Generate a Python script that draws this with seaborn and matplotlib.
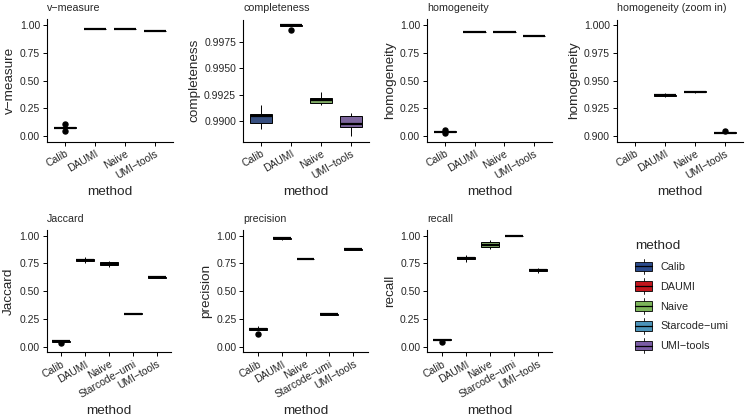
import numpy as np
import pandas as pd
import matplotlib
matplotlib.use("Agg")
import matplotlib.pyplot as plt
import seaborn as sns
from matplotlib.legend_handler import HandlerBase
from matplotlib.patches import Patch, Rectangle
from matplotlib.lines import Line2D
from matplotlib.ticker import FormatStrFormatter

# Methods and their fill colours
methods = ["Calib", "DAUMI", "Naive", "Starcode−umi", "UMI−tools"]
colors = ["#2B4B8C", "#C3161D", "#7CB55A", "#4B93B9", "#7A5CA5"]

# Replicate values per metric
v_measure = {
    "Calib": [0.045, 0.070, 0.072, 0.074, 0.075, 0.076, 0.077, 0.078, 0.079, 0.110],
    "DAUMI": [0.965, 0.966, 0.966, 0.967, 0.967, 0.967, 0.967, 0.968, 0.968, 0.969],
    "Naive": [0.964, 0.964, 0.965, 0.965, 0.965, 0.966, 0.966, 0.966, 0.967, 0.967],
    "UMI−tools": [0.943, 0.943, 0.944, 0.944, 0.944, 0.944, 0.945, 0.945, 0.945, 0.946],
}
completeness = {
    "Calib": [0.98927, 0.98960, 0.98975, 0.99010, 0.99035, 0.99050, 0.99065, 0.99071, 0.99100, 0.99150],
    "DAUMI": [0.99868, 0.99905, 0.99906, 0.99907, 0.99908, 0.99909, 0.99909, 0.99910, 0.99911, 0.99912],
    "Naive": [0.99150, 0.99160, 0.99165, 0.99185, 0.99195, 0.99200, 0.99215, 0.99224, 0.99240, 0.99278],
    "UMI−tools": [0.98856, 0.98900, 0.98940, 0.98950, 0.98960, 0.98975, 0.99035, 0.99045, 0.99055, 0.99074],
}
homogeneity = {
    "Calib": [0.028, 0.032, 0.036, 0.038, 0.039, 0.040, 0.041, 0.042, 0.043, 0.055],
    "DAUMI": [0.9355, 0.9358, 0.9360, 0.9363, 0.9365, 0.9367, 0.9370, 0.9375, 0.9380, 0.9388],
    "Naive": [0.9385, 0.9390, 0.9394, 0.9398, 0.9400, 0.9402, 0.9403, 0.9405, 0.9406, 0.9408],
    "UMI−tools": [0.8985, 0.8990, 0.8995, 0.9024, 0.9027, 0.9029, 0.9030, 0.9031, 0.9033, 0.9042],
}
jaccard = {
    "Calib": [0.030, 0.045, 0.046, 0.047, 0.048, 0.048, 0.049, 0.049, 0.050, 0.051],
    "DAUMI": [0.750, 0.765, 0.772, 0.776, 0.779, 0.781, 0.785, 0.792, 0.800, 0.810],
    "Naive": [0.720, 0.728, 0.732, 0.738, 0.742, 0.748, 0.755, 0.765, 0.770, 0.775],
    "Starcode−umi": [0.295, 0.296, 0.297, 0.298, 0.298, 0.299, 0.299, 0.300, 0.301, 0.302],
    "UMI−tools": [0.620, 0.622, 0.623, 0.624, 0.625, 0.626, 0.627, 0.628, 0.629, 0.631],
}
precision = {
    "Calib": [0.118, 0.150, 0.152, 0.155, 0.158, 0.162, 0.166, 0.170, 0.175, 0.185],
    "DAUMI": [0.966, 0.970, 0.973, 0.975, 0.976, 0.977, 0.978, 0.979, 0.980, 0.981],
    "Naive": [0.790, 0.791, 0.792, 0.792, 0.793, 0.793, 0.794, 0.794, 0.795, 0.796],
    "Starcode−umi": [0.287, 0.288, 0.289, 0.289, 0.290, 0.290, 0.291, 0.291, 0.292, 0.293],
    "UMI−tools": [0.873, 0.874, 0.875, 0.875, 0.876, 0.876, 0.877, 0.877, 0.878, 0.879],
}
recall = {
    "Calib": [0.040, 0.060, 0.062, 0.063, 0.064, 0.065, 0.066, 0.067, 0.068, 0.069],
    "DAUMI": [0.760, 0.775, 0.785, 0.790, 0.795, 0.798, 0.802, 0.808, 0.815, 0.830],
    "Naive": [0.880, 0.890, 0.898, 0.905, 0.915, 0.925, 0.935, 0.943, 0.950, 0.958],
    "Starcode−umi": [0.995, 0.996, 0.996, 0.997, 0.997, 0.997, 0.998, 0.998, 0.998, 0.999],
    "UMI−tools": [0.665, 0.675, 0.680, 0.684, 0.688, 0.692, 0.696, 0.700, 0.705, 0.712],
}


def to_long(d):
    rows = [(m, v) for m, vals in d.items() for v in vals]
    return pd.DataFrame(rows, columns=["method", "value"])


palette = dict(zip(methods, colors))
four = ["Calib", "DAUMI", "Naive", "UMI−tools"]

sns.set_style("ticks")
plt.rcParams["font.family"] = ["Liberation Sans", "DejaVu Sans"]

fig = plt.figure(figsize=(7.45, 4.17), dpi=100)
W, H = 745, 417


def add_ax(left, right, top, bottom):
    return fig.add_axes([left / W, 1 - bottom / H, (right - left) / W, (bottom - top) / H])


# title, ylabel, data, order, ylim mode, panel box in pixels
panels = [
    ("v−measure", "v−measure", v_measure, four, "unit", (47, 173, 19.5, 141.6)),
    ("completeness", "completeness", completeness, four, "free", (243, 369, 19.5, 141.6)),
    ("homogeneity", "homogeneity", homogeneity, four, "unit", (427, 552, 19.5, 141.6)),
    ("homogeneity (zoom in)", "homogeneity", homogeneity, four, "zoom", (617, 743, 19.5, 141.6)),
    ("Jaccard", "Jaccard", jaccard, methods, "unit", (46.6, 171.4, 230.2, 352.2)),
    ("precision", "precision", precision, methods, "unit", (243.4, 367.6, 230.2, 352.2)),
    ("recall", "recall", recall, methods, "unit", (427.3, 552.1, 230.2, 352.2)),
]

for title, ylab, d, order, mode, box in panels:
    ax = add_ax(*box)
    df = to_long(d)
    if mode == "zoom":
        # values outside the zoomed scale are dropped, as ylim() does in ggplot
        df = df[(df["value"] >= 0.9) & (df["value"] <= 1.0)]
    sns.boxplot(
        data=df, x="method", y="value", hue="method",
        order=order, hue_order=order, palette=palette,
        width=0.75, linecolor="black", linewidth=0.7,
        showcaps=False, legend=False, ax=ax,
        medianprops=dict(linewidth=1.6),
        flierprops=dict(marker="o", markerfacecolor="black",
                        markeredgecolor="black", markersize=3.6),
    )
    ax.set_xlim(-0.6, len(order) - 0.4)
    if mode == "unit":
        ax.set_ylim(-0.05, 1.05)
        ax.set_yticks([0, 0.25, 0.5, 0.75, 1.0])
        ax.yaxis.set_major_formatter(FormatStrFormatter("%.2f"))
    elif mode == "zoom":
        ax.set_ylim(0.895, 1.005)
        ax.set_yticks([0.9, 0.925, 0.95, 0.975, 1.0])
        ax.yaxis.set_major_formatter(FormatStrFormatter("%.3f"))
    else:
        lo, hi = df["value"].min(), df["value"].max()
        pad = 0.05 * (hi - lo)
        ax.set_ylim(lo - pad, hi + pad)
        ax.set_yticks([0.99, 0.9925, 0.995, 0.9975])
        ax.yaxis.set_major_formatter(FormatStrFormatter("%.4f"))
    ax.set_title(title, loc="left", fontsize=7.7, pad=6)
    ax.set_ylabel(ylab, fontsize=9.7, labelpad=3)
    ax.set_xlabel("method", fontsize=9.7, labelpad=4)
    ax.tick_params(axis="both", labelsize=7.5, length=3, width=0.7, pad=2,
                   color="black", labelcolor="#262626")
    plt.setp(ax.get_xticklabels(), rotation=30, ha="right", rotation_mode="anchor")
    for s in ["left", "bottom"]:
        ax.spines[s].set_linewidth(0.8)
        ax.spines[s].set_color("black")
    sns.despine(ax=ax)


class BoxKey(HandlerBase):
    def create_artists(self, legend, orig_handle, xdescent, ydescent,
                       width, height, fontsize, trans):
        x0, y0 = -xdescent, -ydescent
        cx = x0 + width / 2
        whisk = Line2D([cx, cx], [y0 - 0.3 * height, y0 + 1.3 * height],
                       color="black", lw=0.6, transform=trans)
        rect = Rectangle((x0, y0), width, height,
                         facecolor=orig_handle.get_facecolor(),
                         edgecolor="black", lw=0.6, transform=trans)
        med = Line2D([x0, x0 + width], [y0 + 0.5 * height] * 2,
                     color="black", lw=0.9, transform=trans)
        return [whisk, rect, med]


handles = [Patch(facecolor=c, label=m) for m, c in zip(methods, colors)]
fig.legend(
    handles=handles, handler_map={Patch: BoxKey()}, title="method",
    loc="upper left", bbox_to_anchor=(630 / W, 1 - 235 / H),
    frameon=False, fontsize=7.8, title_fontsize=9.7,
    handlelength=1.5, handleheight=1.0, labelspacing=0.85,
    handletextpad=0.8, borderpad=0, alignment="left",
)

fig.savefig("out.png", dpi=100)
